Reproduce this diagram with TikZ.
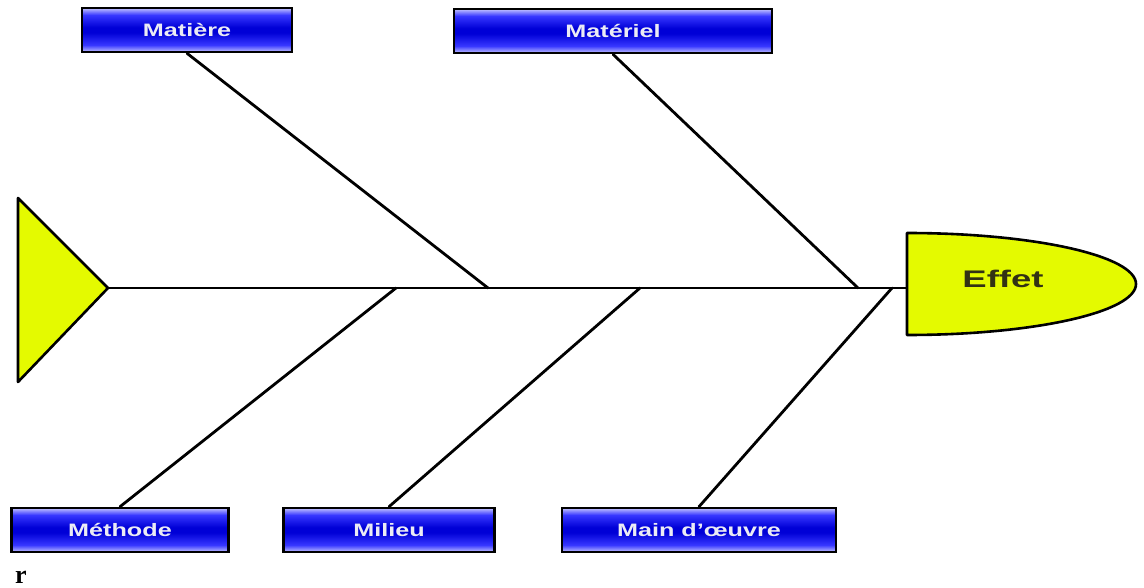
\documentclass[tikz,border=0pt]{standalone}
\usepackage{fontspec}
\setmainfont{Liberation Sans}
\newfontfamily\serifbold{Liberation Serif}
\usetikzlibrary{calc}

\definecolor{fishyellow}{RGB}{228,250,0}
\definecolor{effettext}{RGB}{50,50,20}
\definecolor{glosstop}{RGB}{195,195,255}
\definecolor{glossmid}{RGB}{55,55,255}
\definecolor{glossdark}{RGB}{0,0,215}
\definecolor{labeltext}{RGB}{235,235,245}

% glossy blue bar used for the category labels (path box spans 25bp..75bp)
\pgfdeclareverticalshading{glossbar}{100bp}{
  color(0bp)=(glosstop);
  color(25bp)=(glosstop);
  color(33bp)=(glossmid);
  color(47bp)=(glossdark);
  color(53bp)=(glossdark);
  color(67bp)=(glossmid);
  color(75bp)=(glosstop);
  color(100bp)=(glosstop)
}

% wide lettering
\newcommand{\widetext}[2]{\scalebox{#1}[1]{#2}}

\tikzset{
  catbox/.style={draw=black, line width=2.6pt, shading=glossbar,
    minimum height=44, inner sep=0pt, text=labeltext,
    font=\fontsize{18}{20}\selectfont\bfseries},
  bone/.style={line width=2.8pt, line cap=round},
  spine/.style={line width=2pt},
  headshape/.style={draw=black, line width=2.6pt, fill=fishyellow, line join=round}
}

\begin{document}
\begin{tikzpicture}[x=1pt, y=-1pt]
  \useasboundingbox (0,0) rectangle (1144,588);

  % tail and head of the fish
  \draw[headshape] (18,198) -- (108,288) -- (18,382) -- cycle;
  \coordinate (tail) at (108,288);
  \draw[headshape] (907,233) arc[start angle=-90, end angle=90, x radius=229, y radius=51] -- cycle;
  \coordinate (head) at (907,288);
  \node[text=effettext, font=\fontsize{24}{26}\selectfont\bfseries] (effet) at (1003,279) {\widetext{1.52}{Effet}};

  % backbone
  \draw[spine] (tail) -- (head);

  % junctions on the backbone
  \coordinate (j1) at (488,288);
  \coordinate (j2) at (858,288);
  \coordinate (j3) at (396,288);
  \coordinate (j4) at (640,288);
  \coordinate (j5) at (892,288);

  % category labels
  \node[catbox, minimum width=210] (matiere) at (187,30) {\widetext{1.4}{Matière}};
  \node[catbox, minimum width=318] (materiel) at (613,31) {\widetext{1.4}{Matériel}};
  \node[catbox, minimum width=217] (methode) at (120,530) {\widetext{1.4}{Méthode}};
  \node[catbox, minimum width=211] (milieu) at (389,530) {\widetext{1.4}{Milieu}};
  \node[catbox, minimum width=274] (main) at (699,530) {\widetext{1.4}{Main d’œuvre}};

  % bones
  \draw[bone] (matiere.south) -- (j1);
  \draw[bone] (materiel.south) -- (j2);
  \draw[bone] (j3) -- (methode.north);
  \draw[bone] (j4) -- (milieu.north);
  \draw[bone] (j5) -- (main.north);

  \node[font=\serifbold\fontsize{26}{28}\selectfont\bfseries, inner sep=0pt, anchor=base] (r) at (21,583) {r};
\end{tikzpicture}
\end{document}
